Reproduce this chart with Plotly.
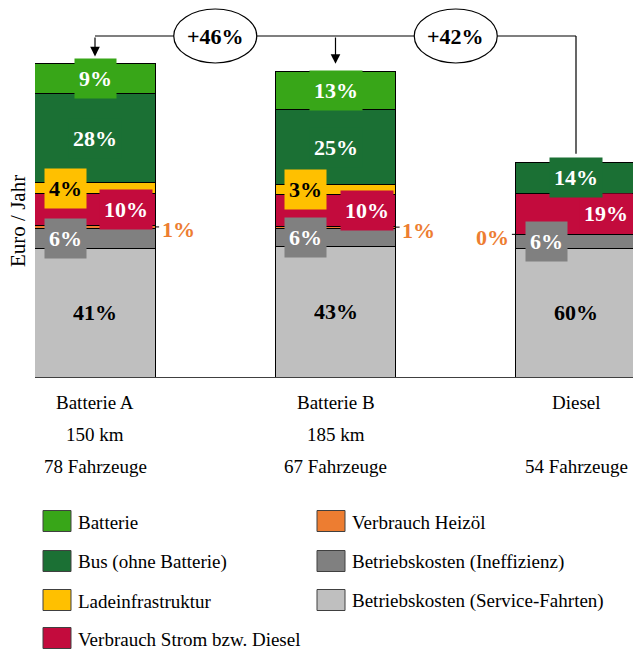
import plotly.graph_objects as go

# Bus categories and their axis captions
categories = ["Batterie A", "Batterie B", "Diesel"]
range_labels = ["150 km", "185 km", ""]
fleet_labels = ["78 Fahrzeuge", "67 Fahrzeuge", "54 Fahrzeuge"]

# Annual cost components (Diesel total = 100), listed bottom to top of each stack
service_trips = [60.0, 60.8, 60.0]
inefficiency = [9.4, 8.5, 6.3]
heating_oil = [1.0, 1.0, 0.3]
energy = [15.0, 14.6, 19.0]
charging = [5.2, 4.6, 0.0]
bus_body = [41.4, 35.0, 14.4]
battery = [13.8, 17.9, 0.0]

SERIF = "Liberation Serif, Times New Roman, serif"

# name, values, fill colour, label text colour, label x-offset (px) per bar
series = [
    ("Betriebskosten (Service-Fahrten)", service_trips, "#BFBFBF", "black", [0, 0, 0]),
    ("Betriebskosten (Ineffizienz)", inefficiency, "#808080", "white", [-30, -30, -30]),
    ("Verbrauch Heizöl", heating_oil, "#ED7D31", "#ED7D31", [83, 83, -84]),
    ("Verbrauch Strom bzw. Diesel", energy, "#C30B3D", "white", [31, 31, 30]),
    ("Ladeinfrastruktur", charging, "#FFC000", "black", [-30, -30, -30]),
    ("Bus (ohne Batterie)", bus_body, "#1B7034", "white", [0, 0, 0]),
    ("Batterie", battery, "#38A618", "white", [0, 0, 0]),
]

totals = [sum(s[1][i] for s in series) for i in range(len(categories))]

# plot-area geometry in pixels
W, H = 633, 653
L, T = 35, 0
PW, PH = 598, 377
X_RANGE = [-0.2495, -0.2495 + PW / 240.5]
Y_RANGE = [0, 175.6]
PX_PER_X = PW / (X_RANGE[1] - X_RANGE[0])
PX_PER_Y = PH / (Y_RANGE[1] - Y_RANGE[0])


def paper_x(px):
    return (px - L) / PW


def paper_y(py):
    return (T + PH - py) / PH


fig = go.Figure()
xs = list(range(len(categories)))
for name, vals, color, _, _ in series:
    fig.add_trace(go.Bar(
        x=xs, y=vals, name=name, width=0.5,
        marker=dict(color=color, line=dict(color="black", width=1)),
        hoverinfo="skip", showlegend=False,
    ))

annotations = []
shapes = []

# percentage labels inside / beside each segment
base = [0.0] * len(categories)
for name, vals, color, tcolor, offs in series:
    for i, v in enumerate(vals):
        mid = base[i] + v / 2
        if v > 0:
            pct = f"{100 * v / totals[i]:.0f}%"
            is_oil = name == "Verbrauch Heizöl"
            annotations.append(dict(
                x=i, y=mid, xref="x", yref="y", xshift=offs[i],
                yshift=-3 if is_oil else 0,
                text=pct, showarrow=False,
                font=dict(family=SERIF, size=22, color=tcolor, weight="bold"),
                bgcolor=None if is_oil else color,
                borderpad=4, height=31,
                xanchor="center", yanchor="middle",
            ))
            if is_oil:
                sign = 1 if offs[i] > 0 else -1
                edge = i + sign * 0.25
                shapes.append(dict(
                    type="line", xref="x", yref="y",
                    x0=edge, x1=edge + sign * 4 / PX_PER_X, y0=mid, y1=mid,
                    line=dict(color="black", width=1),
                ))
        base[i] += v

# category captions below the axis
for i in xs:
    for text, py in ((categories[i], 402), (range_labels[i], 435), (fleet_labels[i], 466)):
        if text:
            annotations.append(dict(
                x=i, y=paper_y(py), xref="x", yref="paper", text=text,
                showarrow=False, xanchor="center", yanchor="middle",
                font=dict(family=SERIF, size=19, color="black"),
            ))

# y-axis title
annotations.append(dict(
    x=paper_x(18), y=paper_y(221), xref="paper", yref="paper",
    text="Euro / Jahr", textangle=-90, showarrow=False,
    xanchor="center", yanchor="middle",
    font=dict(family=SERIF, size=21, color="black"),
))

# comparison bracket relative to Diesel
LEVEL = (PH - 36) / PX_PER_Y
ref = len(categories) - 1
shapes.append(dict(type="line", xref="x", yref="y", x0=0, x1=ref, y0=LEVEL, y1=LEVEL,
                   line=dict(color="black", width=1.2)))
shapes.append(dict(type="line", xref="x", yref="y", x0=ref, x1=ref, y0=LEVEL,
                   y1=totals[ref] + 4, line=dict(color="black", width=1.2)))
ell_w = 83 / PX_PER_X
ell_h = 54 / PX_PER_Y
for i in range(ref):
    annotations.append(dict(
        x=i, y=totals[i] + 3.5, xref="x", yref="y", ax=i, ay=LEVEL,
        axref="x", ayref="y", text="", showarrow=True,
        arrowhead=2, arrowsize=1.6, arrowwidth=1.2, arrowcolor="black",
    ))
    cx = i + 0.5
    shapes.append(dict(
        type="circle", xref="x", yref="y",
        x0=cx - ell_w / 2, x1=cx + ell_w / 2,
        y0=LEVEL - ell_h / 2, y1=LEVEL + ell_h / 2,
        fillcolor="white", line=dict(color="black", width=1.2),
    ))
    change = 100 * (totals[i] / totals[ref] - 1)
    annotations.append(dict(
        x=cx, y=LEVEL, xref="x", yref="y", text=f"+{change:.0f}%",
        showarrow=False, xanchor="center", yanchor="middle",
        font=dict(family=SERIF, size=22, color="black", weight="bold"),
    ))

# legend: two columns of swatches with labels
legend_items = [
    ("Batterie", "#38A618", 0, 0),
    ("Bus (ohne Batterie)", "#1B7034", 0, 1),
    ("Ladeinfrastruktur", "#FFC000", 0, 2),
    ("Verbrauch Strom bzw. Diesel", "#C30B3D", 0, 3),
    ("Verbrauch Heizöl", "#ED7D31", 1, 0),
    ("Betriebskosten (Ineffizienz)", "#808080", 1, 1),
    ("Betriebskosten (Service-Fahrten)", "#BFBFBF", 1, 2),
]
col_x = [43, 317]
row_y = [521, 561, 600, 638]
for label, color, col, row in legend_items:
    x0 = col_x[col]
    yc = row_y[row]
    shapes.append(dict(
        type="rect", xref="paper", yref="paper",
        x0=paper_x(x0), x1=paper_x(x0 + 28), y0=paper_y(yc + 10.5), y1=paper_y(yc - 10.5),
        fillcolor=color, line=dict(color="#404040", width=1),
    ))
    annotations.append(dict(
        x=paper_x(x0 + 33), y=paper_y(yc + 1), xref="paper", yref="paper",
        text=label, showarrow=False, xanchor="left", yanchor="middle",
        font=dict(family=SERIF, size=19, color="black"),
    ))

fig.update_layout(
    width=W, height=H,
    margin=dict(l=L, r=W - L - PW, t=T, b=H - T - PH),
    barmode="stack",
    plot_bgcolor="white", paper_bgcolor="white",
    xaxis=dict(range=X_RANGE, showticklabels=False, ticks="", showgrid=False,
               zeroline=False, showline=True, linecolor="#404040", linewidth=1),
    yaxis=dict(range=Y_RANGE, showticklabels=False, ticks="", showgrid=False,
               zeroline=False, showline=False),
    annotations=annotations,
    shapes=shapes,
)

fig.write_html("out.html")
